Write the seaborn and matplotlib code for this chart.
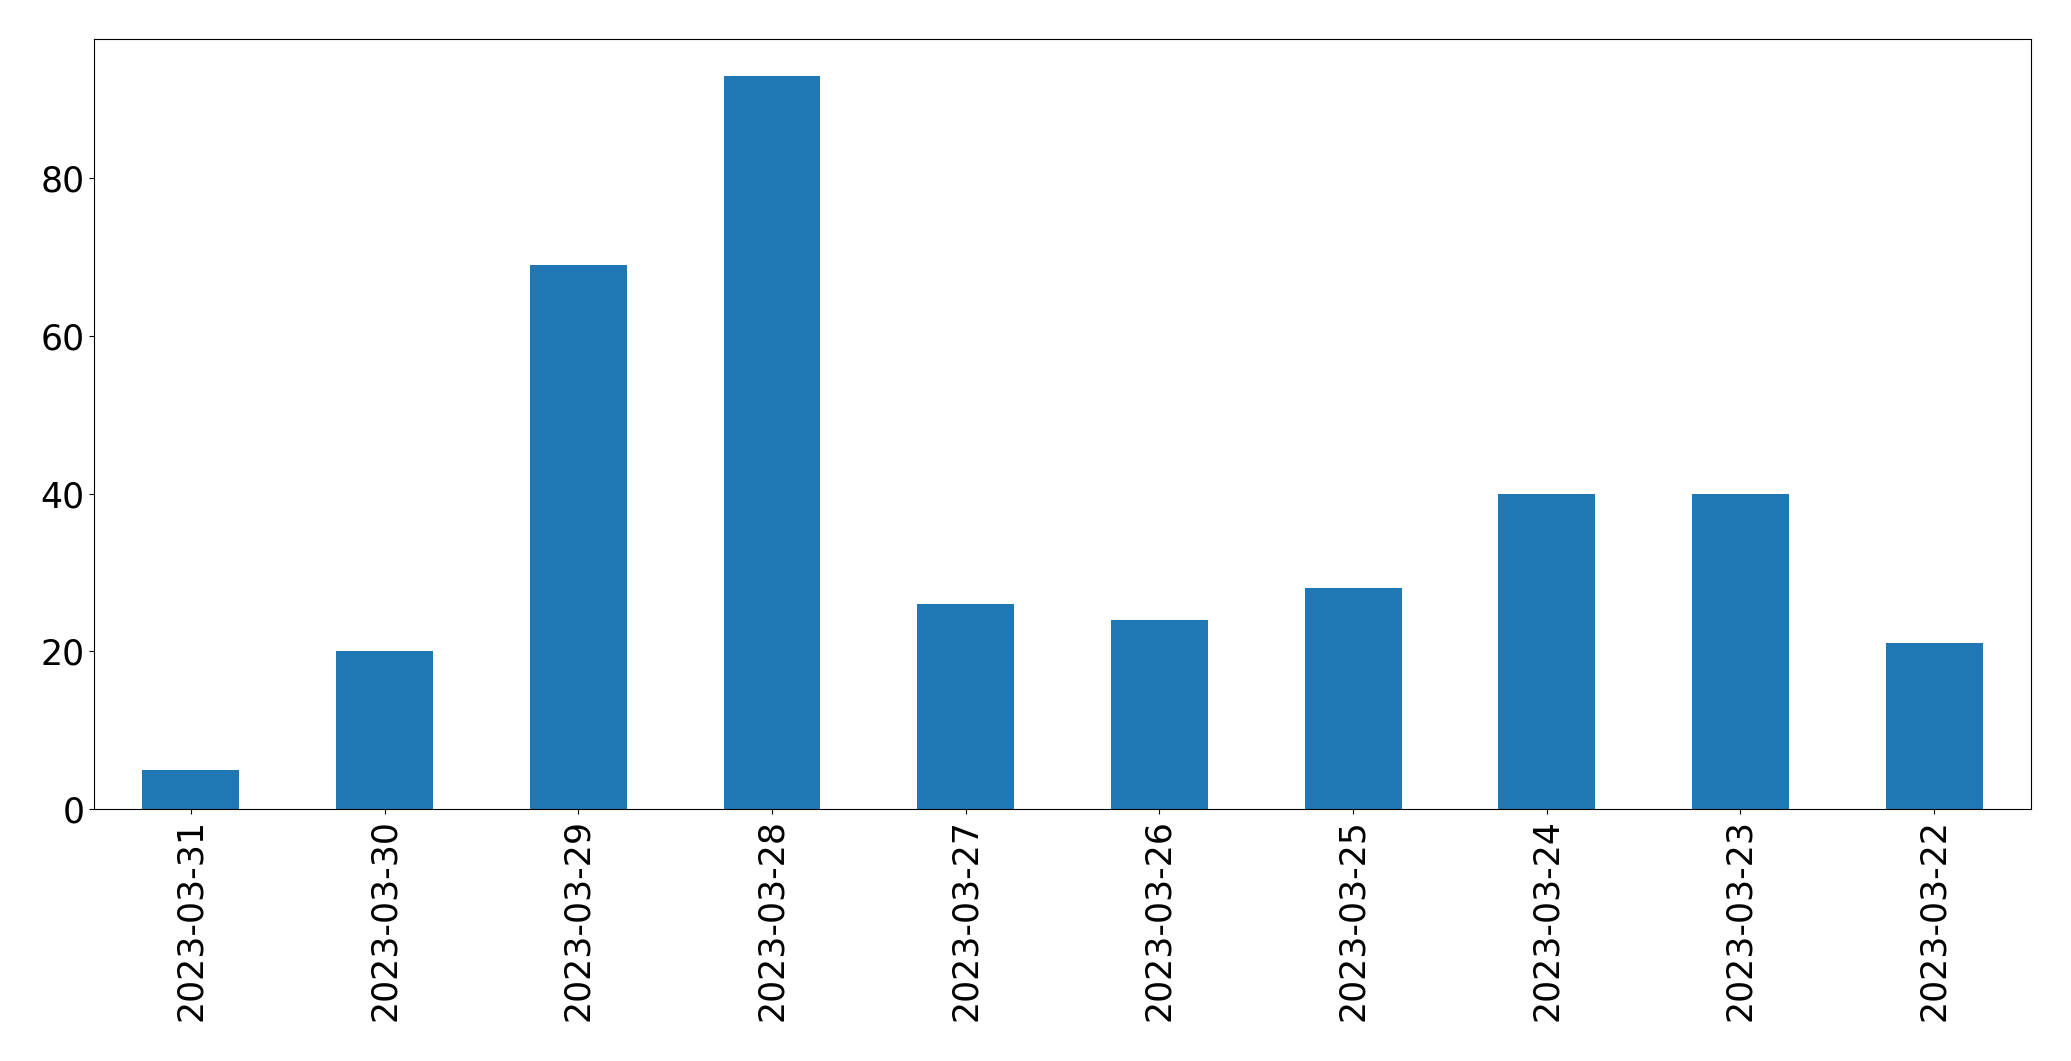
import pandas as pd
import matplotlib
matplotlib.use('Agg')
import matplotlib.pyplot as plt
import seaborn as sns

dates = ['2023-03-31', '2023-03-30', '2023-03-29', '2023-03-28', '2023-03-27',
         '2023-03-26', '2023-03-25', '2023-03-24', '2023-03-23', '2023-03-22']
counts = [5, 20, 69, 93, 26, 24, 28, 40, 40, 21]

df = pd.DataFrame({'date': dates, 'count': counts})

fig, ax = plt.subplots(figsize=(20.71, 10.61), dpi=100)
sns.barplot(data=df, x='date', y='count', order=dates, color='#1f77b4',
            saturation=1, width=0.5, linewidth=0, ax=ax)

ax.set_xlim(-0.5, len(dates) - 0.5)
ax.set_ylim(0, max(counts) * 1.05)
ax.set_xlabel('')
ax.set_ylabel('')
ax.tick_params(axis='both', labelsize=25)
ax.tick_params(axis='x', rotation=90)

plt.subplots_adjust(left=0.0454, right=0.9807, top=0.9632, bottom=0.2375)
plt.savefig('out.png', dpi=100)
